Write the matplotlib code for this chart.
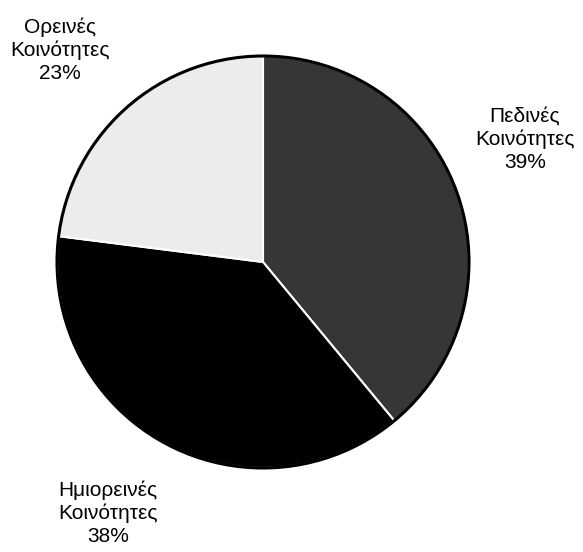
import matplotlib
matplotlib.use("Agg")
import matplotlib.pyplot as plt

plt.rcParams['font.family'] = ['Liberation Sans', 'DejaVu Sans']

labels = ["Πεδινές\nΚοινότητες\n39%", "Ημιορεινές\nΚοινότητες\n38%", "Ορεινές\nΚοινότητες\n23%"]
values = [39, 38, 23]
colors = ["#363636", "#000000", "#ececec"]
# label centres in pixel coords (x, y from top)
label_pos = [(525, 139), (108, 513), (60, 50)]

W, H = 583, 552
fig = plt.figure(figsize=(W / 100, H / 100), dpi=100)
ax = fig.add_axes([0, 0, 1, 1])
ax.set_xlim(0, W)
ax.set_ylim(0, H)
ax.set_aspect('equal')
ax.axis('off')

cx, cy, r = 263, H - 262, 206
wedges, _ = ax.pie(values, colors=colors, startangle=90, counterclock=False,
                   center=(cx, cy), radius=r,
                   wedgeprops=dict(edgecolor='white', linewidth=1.5))
ax.add_patch(plt.Circle((cx, cy), r, fill=False, edgecolor='black', linewidth=2.2))
ax.set_xlim(0, W)
ax.set_ylim(0, H)

for txt, (x, y) in zip(labels, label_pos):
    ax.text(x, H - y, txt, ha='center', va='center', fontsize=15, linespacing=1.25)

fig.savefig("out.png", dpi=100)
